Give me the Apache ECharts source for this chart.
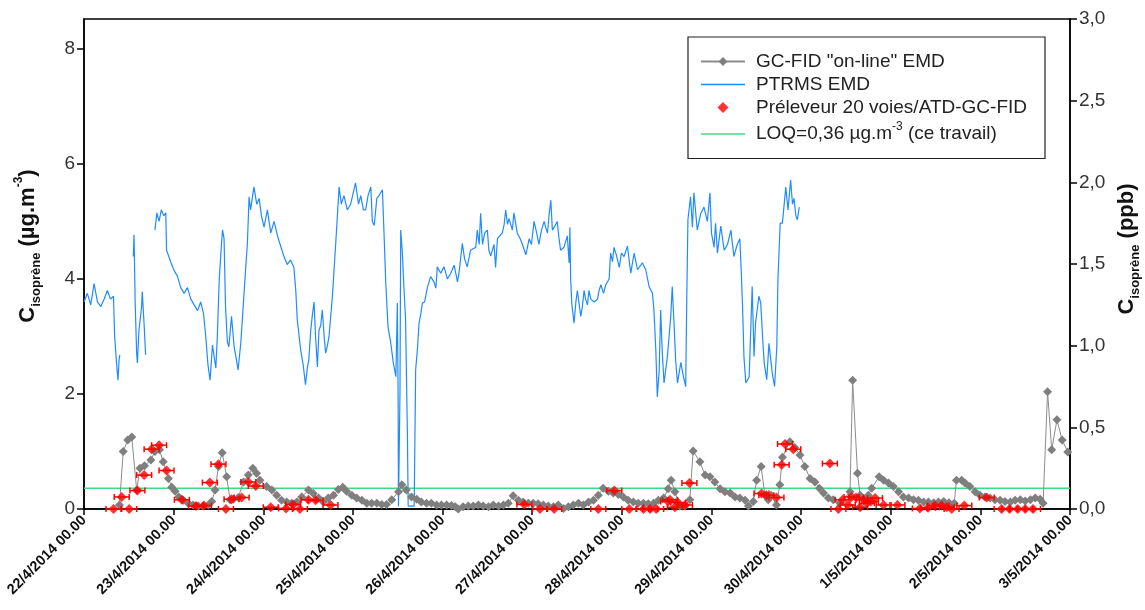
<!DOCTYPE html>
<html>
<head>
<meta charset="utf-8">
<script src="https://cdn.jsdelivr.net/npm/echarts@6/dist/echarts.min.js"></script>
<style>
  html, body { margin: 0; padding: 0; background: #fff; }
  #chart { width: 1145px; height: 610px; }
</style>
</head>
<body>
<div id="chart"></div>
<script>
// heures depuis le 22/4/2014 00.00
let dayLabels = ['22/4/2014 00.00', '23/4/2014 00.00', '24/4/2014 00.00', '25/4/2014 00.00',
    '26/4/2014 00.00', '27/4/2014 00.00', '28/4/2014 00.00', '29/4/2014 00.00',
    '30/4/2014 00.00', '1/5/2014 00.00', '2/5/2014 00.00', '3/5/2014 00.00'];

let loqValue = 0.36;

// PTRMS EMD (µg.m-3), '-' = trou dans la série
let ptrms = [
    [0, 3.6], [0.9, 3.75], [1.8, 3.55], [2.7, 3.92], [3.6, 3.6], [4.5, 3.52], [5.4, 3.65], [6.25, 3.8], [7.1, 3.65], [7.9, 3.7],
    [8.2, 3.0], [8.7, 2.55], [9.1, 2.24], [9.4, 2.6], [9.6, 2.68], [11.4, '-'],
    [13.2, 4.39], [13.4, 4.77], [13.7, 3.6], [14.1, 2.7], [14.3, 2.54], [14.7, 3.1], [15.4, 3.5], [15.6, 3.78], [16.1, 3.2], [16.5, 2.68], [17.8, '-'],
    [19.0, 4.85], [19.5, 5.15], [20.1, 5.0], [20.7, 5.2], [21.4, 5.1], [21.9, 5.15], [22.1, 4.5], [23.2, 4.3], [24.1, 4.15], [25.0, 4.05],
    [25.9, 3.85], [26.8, 3.75], [27.7, 3.85], [28.6, 3.65], [29.5, 3.55], [30.4, 3.45], [31.25, 3.6], [32.0, 3.4], [32.6, 3.0], [33.2, 2.5],
    [33.75, 2.24], [34.4, 2.85], [35.3, 2.45], [35.7, 3.0], [36.2, 3.98], [36.8, 4.6], [37.1, 4.85], [37.5, 4.7], [37.9, 3.5], [38.4, 2.9],
    [38.8, 2.82], [39.5, 3.35], [40.2, 2.82], [40.8, 2.6], [41.25, 2.42], [42.0, 2.9], [42.7, 3.6], [43.3, 4.2], [43.75, 4.62], [44.2, 5.43],
    [44.6, 5.2], [45.5, 5.6], [46.25, 5.3], [46.9, 5.4], [47.5, 5.1],
    [48.2, 4.9], [49.1, 5.2], [50.0, 4.8], [50.9, 5.0], [51.8, 4.75], [52.7, 4.56], [53.5, 4.4], [54.4, 4.25], [55.3, 4.33], [56.2, 4.2],
    [56.7, 3.8], [57.1, 3.29], [58.0, 2.77], [58.7, 2.5], [59.3, 2.16], [59.8, 2.45], [60.2, 2.6], [60.7, 3.1], [61.1, 3.35], [61.6, 3.6],
    [62.0, 3.0], [62.5, 2.47], [62.9, 3.1], [63.4, 3.2], [63.8, 3.46], [64.3, 3.0], [64.7, 2.71], [65.2, 2.85], [65.6, 3.0], [66.5, 3.69],
    [67.4, 4.62], [68.3, 5.6], [68.9, 5.3], [69.6, 5.45], [70.5, 5.2], [71.4, 5.3], [72.1, 5.5], [72.7, 5.67], [73.5, 5.3], [74.1, 5.45],
    [74.8, 5.2], [75.4, 5.2], [76.05, 5.45], [76.8, 5.6], [77.2, 5.0], [77.7, 4.93], [78.4, 5.4], [79.0, 5.45], [79.9, 5.55], [80.3, 4.85],
    [80.8, 3.93], [81.4, 3.17], [82.1, 2.9], [82.8, 2.55], [83.5, 2.3], [83.9, 3.58], [84.1, 2.0], [84.2, 0.05], [84.5, 0.05], [84.6, 2.0],
    [84.8, 4.85], [85.2, 4.5], [85.7, 3.8], [86.1, 3.29], [86.6, 1.26], [86.8, 0.05], [88.4, 0.05], [88.6, 1.2], [88.8, 2.42], [89.3, 2.8],
    [89.7, 3.23], [90.2, 3.4], [90.6, 3.58], [91.2, 3.6], [91.9, 3.84], [92.8, 4.04], [93.7, 3.95], [94.2, 3.84], [94.6, 4.21], [95.5, 4.1],
    [96.4, 4.21], [97.3, 4.0], [98.2, 4.1], [99.1, 4.24], [100.0, 3.95], [100.4, 4.1], [101.3, 4.62], [101.9, 4.35], [102.6, 4.21], [103.5, 4.5],
    [104.9, 4.55], [105.3, 4.85], [105.8, 4.6], [106.2, 5.14], [106.7, 4.6], [107.3, 4.8], [108.0, 4.85], [108.4, 4.5], [108.9, 4.4], [109.8, 4.6],
    [110.2, 4.2], [110.7, 4.7], [111.1, 4.7], [112.0, 4.8], [112.5, 4.95], [112.9, 5.2], [113.4, 4.95], [113.8, 5.05], [114.7, 4.85], [115.1, 5.15],
    [116.0, 4.8], [116.8, 4.7], [117.4, 4.6], [118.3, 4.42], [119.2, 4.7], [119.8, 4.6], [120.5, 5.0], [121.2, 4.8], [121.8, 4.6], [122.5, 4.85],
    [123.2, 5.0], [123.6, 4.9], [124.1, 4.8], [124.5, 5.1], [125.0, 5.37], [125.4, 4.85], [125.9, 4.9], [126.7, 5.0], [127.2, 4.7], [127.6, 4.5],
    [128.5, 4.55], [129.4, 4.75], [129.9, 4.28], [130.1, 4.9], [130.3, 4.0], [130.6, 3.58], [131.2, 3.23], [131.7, 3.6], [132.1, 3.8], [132.5, 3.6],
    [133.0, 3.35], [133.4, 3.5], [133.9, 3.8], [134.3, 3.65], [134.8, 3.55], [135.2, 3.8], [135.7, 3.65], [136.6, 3.6], [137.5, 3.65], [137.9, 3.8],
    [138.4, 3.9], [139.1, 3.75], [139.7, 3.9], [140.6, 4.0], [141.0, 4.45], [141.5, 4.3], [141.9, 4.55], [142.6, 4.4], [143.3, 4.2], [143.9, 4.45],
    [144.6, 4.39], [145.5, 4.57], [146.4, 4.1], [147.3, 4.45], [148.2, 4.16], [149.5, 4.28], [150.4, 4.16], [151.3, 3.87], [152.2, 3.75], [152.6, 3.46],
    [153.1, 2.77], [153.5, 1.95], [154.0, 2.4], [154.4, 3.46], [154.8, 2.77], [155.3, 2.19], [156.2, 2.65], [157.1, 3.35], [157.5, 3.87], [158.0, 3.2],
    [158.4, 2.6], [158.9, 2.19], [159.8, 2.55], [160.5, 2.3], [161.1, 2.13], [161.4, 3.7], [161.7, 5.03], [162.4, 5.43], [162.9, 4.9], [163.3, 5.5],
    [164.2, 4.85], [165.1, 5.13], [166.0, 5.25], [166.9, 5.0], [167.6, 5.5], [168.0, 4.8], [168.7, 4.55], [169.1, 4.97], [169.6, 4.45], [170.5, 4.92],
    [171.4, 4.5], [172.3, 4.6], [173.2, 4.85], [174.0, 4.39], [174.9, 4.6], [175.6, 4.7], [176.0, 4.1], [176.3, 3.58], [176.7, 2.65], [177.2, 2.19],
    [178.1, 2.3], [178.9, 3.87], [179.4, 2.65], [179.8, 3.23], [180.7, 3.7], [181.2, 3.58], [181.6, 3.1], [182.1, 2.55], [182.8, 2.25], [183.4, 2.88],
    [184.3, 2.35], [184.9, 2.13], [185.5, 2.82], [185.8, 3.99], [186.4, 4.97], [187.0, 4.97], [187.9, 5.6], [188.5, 5.2], [189.2, 5.72], [189.7, 5.3],
    [190.1, 5.4], [190.6, 5.1], [191.0, 5.03], [191.5, 5.25]
];

// GC-FID "on-line" EMD (µg.m-3)
let gcfid = [
    [9.5, 0.07], [10.5, 1.0], [11.7, 1.2], [12.8, 1.25], [14.1, 0.33], [15.0, 0.71], [16.2, 0.75], [17.9, 0.85], [19.0, 1.0], [20.2, 1.03],
    [21.2, 0.82], [22.6, 0.53], [23.5, 0.38], [24.4, 0.31], [25.4, 0.21], [26.6, 0.15], [27.9, 0.1], [29.2, 0.07], [30.6, 0.05], [31.9, 0.05],
    [33.3, 0.07], [34.2, 0.13], [35.1, 0.33], [36.0, 0.74], [37.0, 0.98], [38.2, 0.56], [39.1, 0.16], [40.0, 0.17], [41.3, 0.2], [42.7, 0.47],
    [44.0, 0.59], [45.2, 0.71], [46.2, 0.62], [47.1, 0.5], [48.9, 0.39], [50.3, 0.33], [51.6, 0.24], [52.9, 0.15], [54.3, 0.12], [55.6, 0.1],
    [57.0, 0.12], [58.3, 0.21], [60.1, 0.33], [61.4, 0.27], [62.8, 0.19], [64.1, 0.12], [65.4, 0.19], [66.8, 0.24], [68.1, 0.34], [69.3, 0.38],
    [70.3, 0.31], [71.7, 0.24], [73.0, 0.19], [74.4, 0.15], [75.7, 0.1], [77.0, 0.1], [78.4, 0.1], [79.7, 0.08], [81.0, 0.08], [82.4, 0.16],
    [84.2, 0.3], [85.1, 0.42], [86.3, 0.33], [87.7, 0.21], [89.1, 0.17], [90.3, 0.12], [91.7, 0.1], [93.0, 0.1], [94.4, 0.07], [95.7, 0.07],
    [97.1, 0.07], [98.4, 0.06], [99.4, 0.04], [100.2, 0.0], [101.5, 0.04], [102.9, 0.05], [104.2, 0.05], [105.6, 0.07], [106.9, 0.05], [108.3, 0.04],
    [109.6, 0.07], [111.0, 0.05], [112.3, 0.07], [113.6, 0.1], [114.9, 0.23], [116.3, 0.15], [117.6, 0.12], [119.0, 0.1], [120.3, 0.1], [121.6, 0.09],
    [123.0, 0.07], [124.3, 0.05], [125.7, 0.04], [127.0, 0.07], [128.4, 0.01], [129.7, 0.04], [131.0, 0.07], [132.4, 0.1], [133.7, 0.07], [135.1, 0.12],
    [136.4, 0.15], [137.7, 0.24], [139.0, 0.36], [140.4, 0.31], [141.7, 0.28], [143.1, 0.25], [144.4, 0.21], [145.7, 0.15], [147.1, 0.12], [148.4, 0.1],
    [149.8, 0.1], [151.1, 0.09], [152.5, 0.1], [153.8, 0.15], [155.2, 0.19], [156.4, 0.35], [157.2, 0.5], [158.2, 0.3], [159.5, 0.05], [160.9, 0.05],
    [162.2, 0.16], [163.1, 1.01], [164.9, 0.82], [166.3, 0.59], [167.6, 0.56], [168.9, 0.47], [170.3, 0.35], [171.6, 0.3], [173.0, 0.28], [174.3, 0.21],
    [175.6, 0.19], [177.0, 0.15], [177.9, 0.05], [179.2, 0.13], [180.1, 0.5], [181.3, 0.74], [182.3, 0.24], [183.2, 0.16], [184.0, 0.24], [185.4, 0.07],
    [186.3, 0.42], [187.0, 0.9], [189.0, 1.17], [190.3, 1.07], [191.7, 0.94], [193.0, 0.74], [194.4, 0.53], [195.7, 0.47], [196.9, 0.36], [198.0, 0.28],
    [199.3, 0.19], [200.6, 0.16], [202.4, 0.1], [205.1, 0.3], [205.8, 2.24], [207.1, 0.62], [207.8, 0.24], [209.2, 0.16], [210.0, 0.24], [210.9, 0.36],
    [212.9, 0.56], [214.1, 0.5], [215.4, 0.45], [216.7, 0.39], [218.1, 0.3], [219.4, 0.21], [220.8, 0.19], [222.1, 0.16], [223.4, 0.15], [224.8, 0.12],
    [226.1, 0.12], [227.5, 0.11], [228.8, 0.12], [230.2, 0.13], [231.6, 0.11], [233.0, 0.1], [233.6, 0.5], [235.0, 0.5], [235.9, 0.45], [237.2, 0.39],
    [238.6, 0.3], [239.9, 0.24], [241.2, 0.21], [242.6, 0.19], [243.9, 0.16], [245.3, 0.15], [246.6, 0.13], [248.0, 0.12], [249.3, 0.15], [250.7, 0.16],
    [252.0, 0.14], [253.4, 0.16], [254.7, 0.19], [256.0, 0.17], [256.8, 0.1], [258.0, 2.04], [259.1, 1.03], [260.5, 1.55], [261.9, 1.2], [263.4, 0.99]
];

// Préleveur 20 voies/ATD-GC-FID (µg.m-3)
let preleveur = [
    [7.9, 0], [10.1, 0.21], [12.1, 0], [14.3, 0.32], [16.1, 0.59], [18.1, 1.04], [20.1, 1.11], [22.1, 0.67], [26.2, 0.16], [30.0, 0.05],
    [32.1, 0.06], [33.7, 0.46], [36.0, 0.78], [38.0, 0], [39.5, 0.17], [42.2, 0.2], [44.0, 0.47], [46.0, 0.4], [50.0, 0.03], [54.1, 0.01],
    [56.0, 0.08], [57.8, 0], [60.1, 0.16], [62.0, 0.15], [66.0, 0.07], [117.9, 0.08], [122.1, 0], [125.9, 0], [137.7, 0], [142.0, 0.32],
    [146.0, 0], [149.8, 0], [151.6, 0], [153.2, 0], [156.4, 0.13], [156.9, 0.16], [158.2, 0.03], [159.1, 0.11], [160.9, 0.07], [162.1, 0.45],
    [181.4, 0.27], [182.7, 0.24], [185.4, 0.2], [186.8, 0.77], [187.7, 1.13], [189.9, 1.04], [199.7, 0.79], [202.0, 0], [203.1, 0.16], [204.5, 0.07],
    [205.5, 0.21], [206.7, 0.2], [207.8, 0.03], [208.7, 0.16], [209.6, 0.1], [210.7, 0.13], [211.8, 0.19], [214.1, 0.07], [217.8, 0.07], [223.8, 0.01],
    [226.0, 0.02], [227.8, 0.06], [229.6, 0.06], [231.0, 0.03], [232.3, 0], [235.7, 0.06], [241.7, 0.2], [245.7, 0], [247.8, 0], [250.0, 0],
    [252.0, 0], [254.1, 0]
];
let prelevErrX = 2; // demi-largeur de la barre d'erreur (h)

const FONT = '"Liberation Sans", Arial, sans-serif';
const NAME_GC = 'GC-FID "on-line" EMD';
const NAME_PTR = 'PTRMS EMD';
const NAME_PREL = 'Préleveur 20 voies/ATD-GC-FID';
const NAME_LOQ = 'LOQ';
const LINE_ICON = 'path://M0,0 L44,0 L44,1.5 L0,1.5 Z';

let chart = echarts.init(document.getElementById('chart'));

chart.setOption({
    animation: false,
    textStyle: { fontFamily: FONT },
    grid: {
        left: 84, right: 75, top: 19, bottom: 101,
        show: true, borderColor: '#000', borderWidth: 1.5,
        outerBoundsMode: 'none'
    },
    legend: {
        left: 688, top: 37,
        orient: 'vertical',
        data: [
            { name: NAME_GC },
            { name: NAME_PTR, icon: LINE_ICON },
            { name: NAME_PREL, icon: 'path://M5,0 L10,5 L5,10 L0,5 Z' },
            { name: NAME_LOQ, icon: LINE_ICON }
        ],
        symbolKeepAspect: true,
        backgroundColor: '#fff',
        borderColor: '#222', borderWidth: 1.2,
        padding: [15, 18, 15, 12],
        itemGap: 4, itemWidth: 44, itemHeight: 11,
        textStyle: {
            fontFamily: FONT, fontSize: 19, color: '#222', padding: [0, 0, 0, 6],
            rich: {
                n: { fontFamily: FONT, fontSize: 19, color: '#222' },
                sup: { fontFamily: FONT, fontSize: 12, color: '#222', verticalAlign: 'top', lineHeight: 26 }
            }
        },
        formatter: function (name) {
            if (name === NAME_LOQ) return '{n|LOQ=0,36 µg.m}{sup|-3}{n| (ce travail)}';
            return name;
        }
    },
    xAxis: {
        type: 'value', min: 0, max: 264, interval: 24,
        axisLine: { lineStyle: { color: '#000', width: 1.5 } },
        axisTick: { inside: false, length: 6, lineStyle: { color: '#000', width: 1.5 } },
        axisLabel: {
            rotate: 45, margin: 9,
            fontFamily: FONT, fontSize: 14.5, fontWeight: 'bold', color: '#111',
            formatter: v => dayLabels[Math.round(v / 24)] || ''
        },
        splitLine: { show: false }
    },
    yAxis: [
        {
            type: 'value', min: 0, max: 8.52, interval: 2, position: 'left',
            axisLine: { show: true, lineStyle: { color: '#000', width: 1.5 } },
            axisTick: { show: true, length: 7, customValues: [0, 2, 4, 6, 8], lineStyle: { color: '#000', width: 1.5 } },
            axisLabel: { customValues: [0, 2, 4, 6, 8], fontFamily: FONT, fontSize: 19, color: '#333', margin: 9 },
            splitLine: { show: false }
        },
        {
            type: 'value', min: 0, max: 3, interval: 0.5, position: 'right',
            axisLine: { show: true, lineStyle: { color: '#000', width: 1.5 } },
            axisTick: { show: true, length: 7, lineStyle: { color: '#000', width: 1.5 } },
            axisLabel: {
                fontFamily: FONT, fontSize: 19, color: '#333', margin: 9,
                formatter: v => v.toFixed(1).replace('.', ',')
            },
            splitLine: { show: false }
        }
    ],
    graphic: [
        {
            type: 'text', x: 28, y: 246, rotation: Math.PI / 2,
            style: {
                text: '{a|C}{b|isoprène}{a| (µg.m}{c|-3}{a|)}',
                align: 'center', verticalAlign: 'middle',
                rich: {
                    a: { fontFamily: FONT, fontSize: 22, fontWeight: 'bold', fill: '#111', lineHeight: 30 },
                    b: { fontFamily: FONT, fontSize: 13, fontWeight: 'bold', fill: '#111', verticalAlign: 'bottom', lineHeight: 20 },
                    c: { fontFamily: FONT, fontSize: 12, fontWeight: 'bold', fill: '#111', verticalAlign: 'top', lineHeight: 24 }
                }
            }
        },
        {
            type: 'text', x: 1127, y: 249, rotation: Math.PI / 2,
            style: {
                text: '{a|C}{b|isoprène}{a| (ppb)}',
                align: 'center', verticalAlign: 'middle',
                rich: {
                    a: { fontFamily: FONT, fontSize: 22, fontWeight: 'bold', fill: '#111', lineHeight: 30 },
                    b: { fontFamily: FONT, fontSize: 13, fontWeight: 'bold', fill: '#111', verticalAlign: 'bottom', lineHeight: 20 }
                }
            }
        }
    ],
    series: [
        {
            name: NAME_LOQ, type: 'line', yAxisIndex: 0, z: 1,
            data: [[0, loqValue], [264, loqValue]],
            symbol: 'none', silent: true,
            lineStyle: { color: '#3ddc84', width: 1.5 },
            itemStyle: { color: '#3ddc84' }
        },
        {
            name: NAME_PTR, type: 'line', yAxisIndex: 0, z: 2,
            data: ptrms, symbol: 'none', connectNulls: false,
            lineStyle: { color: '#1e8cff', width: 1.2 },
            itemStyle: { color: '#1e8cff' }
        },
        {
            name: NAME_GC, type: 'line', yAxisIndex: 0, z: 3,
            data: gcfid, symbol: 'diamond', symbolSize: 9, showSymbol: true, showAllSymbol: true,
            lineStyle: { color: '#8c8c8c', width: 1 },
            itemStyle: { color: '#7f7f7f' }
        },
        {
            type: 'custom', yAxisIndex: 0, z: 4, silent: true,
            data: preleveur,
            renderItem: function (params, api) {
                let x = api.value(0), y = api.value(1);
                let p0 = api.coord([x - prelevErrX, y]);
                let p1 = api.coord([x + prelevErrX, y]);
                let st = { stroke: '#ff0000', lineWidth: 1.5 };
                return {
                    type: 'group',
                    children: [
                        { type: 'line', shape: { x1: p0[0], y1: p0[1], x2: p1[0], y2: p1[1] }, style: st },
                        { type: 'line', shape: { x1: p0[0], y1: p0[1] - 3, x2: p0[0], y2: p0[1] + 3 }, style: st },
                        { type: 'line', shape: { x1: p1[0], y1: p1[1] - 3, x2: p1[0], y2: p1[1] + 3 }, style: st }
                    ]
                };
            }
        },
        {
            name: NAME_PREL, type: 'scatter', yAxisIndex: 0, z: 5,
            data: preleveur, symbol: 'diamond', symbolSize: 10,
            itemStyle: { color: '#ff0000' }
        }
    ]
});
</script>
</body>
</html>
